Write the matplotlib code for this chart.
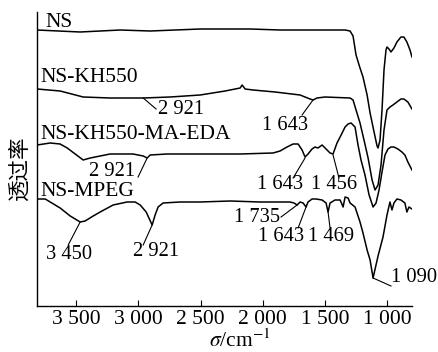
import matplotlib
matplotlib.use('Agg')
import matplotlib.pyplot as plt

plt.rcParams['font.family'] = ['Liberation Serif', 'DejaVu Serif']
plt.rcParams['mathtext.fontset'] = 'stix'

# --- spectra (wavenumber cm-1, transmittance a.u.) ---
ns_w = [3814, 3468, 3146, 2905, 2503, 2101, 1860, 1699, 1337, 1297, 1273, 1249, 1217,
        1193, 1160, 1136, 1104, 1080, 1072, 1056, 1040, 1024, 1008, 1000, 984, 968,
        944, 920, 888, 864, 840, 815, 799]
ns_t = [276, 274, 276, 275, 277, 277, 276, 276, 276, 275, 270, 251, 238,
        229, 211, 193, 174, 160, 158, 166, 196, 236, 256, 259, 257, 254,
        258, 264, 269, 269, 264, 256, 249]

kh_w = [3814, 3629, 3444, 3227, 2961, 2744, 2503, 2302, 2181, 2165, 2141, 2077, 1900,
        1699, 1619, 1595, 1563, 1498, 1297, 1273, 1249, 1217, 1185, 1152, 1120, 1096,
        1072, 1048, 1024, 1000, 976, 952, 920, 888, 864, 832, 799]
kh_t = [217, 215, 209, 208, 208, 209, 211, 215, 218, 221, 217, 216, 214,
        211, 207, 206, 208, 209, 208, 206, 196, 183, 166, 148, 126, 116,
        121, 141, 176, 196, 199, 201, 204, 207, 207, 204, 197]

eda_w = [3814, 3709, 3629, 3572, 3508, 3444, 3387, 3307, 3227, 3042, 2961, 2929, 2905,
         2768, 2503, 2181, 1917, 1860, 1804, 1755, 1715, 1683, 1659, 1635, 1603, 1579,
         1555, 1522, 1498, 1458, 1434, 1402, 1377, 1337, 1313, 1289, 1257, 1233, 1209,
         1177, 1144, 1112, 1088, 1064, 1040, 1016, 992, 968, 944, 912, 880, 856, 832, 799]
eda_t = [161, 163, 162, 158, 152, 146, 148, 150, 152, 152, 150, 148, 151,
         152, 152, 152, 153, 155, 159, 162, 162, 156, 149, 152, 157, 159,
         158, 161, 158, 153, 152, 163, 169, 179, 182, 183, 179, 161, 146,
         131, 111, 99, 103, 116, 134, 151, 157, 159, 159, 157, 154, 151, 144, 136]

peg_w = [3814, 3749, 3709, 3629, 3548, 3468, 3428, 3363, 3307, 3203, 3090, 3026, 2985,
         2937, 2889, 2865, 2841, 2801, 2664, 2503, 2262, 2021, 1780, 1748, 1723, 1699,
         1675, 1651, 1635, 1603, 1571, 1522, 1490, 1474, 1458, 1418, 1377, 1353, 1337,
         1313, 1297, 1257, 1217, 1193, 1160, 1136, 1112, 1072, 1032, 1000, 976, 960,
         944, 920, 888, 856, 840, 823, 799]
peg_t = [107, 107, 104, 98, 90, 84, 85, 90, 94, 101, 104, 104, 101,
         94, 81, 91, 99, 103, 104, 104, 105, 104, 104, 103, 101, 104,
         103, 99, 104, 107, 107, 106, 103, 94, 103, 106, 106, 99, 109,
         108, 103, 99, 84, 73, 56, 46, 28, 50, 69, 91, 104, 96,
         103, 107, 106, 103, 94, 99, 97]

series_names = ['NS', 'NS-KH550', 'NS-KH550-MA-EDA', 'NS-MPEG']
tick_vals = [3500, 3000, 2500, 2000, 1500, 1000]
tick_text = ['3 500', '3 000', '2 500', '2 000', '1 500', '1 000']

# peak labels: (text, peak w, peak t, line end w, line end t, text w, text t, ha)
peaks = [
    ('2 921', 2961, 208, 2857, 197, 2841, 196, 'left'),
    ('1 643', 1595, 206, 1683, 191, 1820, 180, 'center'),
    ('2 921', 2929, 148, 3002, 129, 3211, 134, 'center'),
    ('1 643', 1659, 148, 1755, 128, 1860, 121, 'center'),
    ('1 456', 1434, 151, 1386, 128, 1426, 121, 'center'),
    ('3 450', 3468, 84, 3564, 61, 3556, 51, 'center'),
    ('2 921', 2889, 81, 2961, 61, 2857, 54, 'center'),
    ('1 735', 1723, 101, 1852, 89, 2045, 88, 'center'),
    ('1 643', 1651, 99, 1715, 78, 1852, 69, 'center'),
    ('1 469', 1474, 94, 1458, 78, 1450, 69, 'center'),
    ('1 090', 1112, 28, 968, 20, 968, 28, 'left'),
]

fig = plt.figure(figsize=(4.38, 3.52), dpi=100)
ax = fig.add_axes([0.0845, 0.1307, 0.8561, 0.8352])

lw = 1.1
ax.plot(ns_w, ns_t, color='black', lw=lw)
ax.plot(kh_w, kh_t, color='black', lw=lw)
ax.plot(eda_w, eda_t, color='black', lw=lw)
ax.plot(peg_w, peg_t, color='black', lw=lw)

ax.set_xlim(3815, 799)
ax.set_ylim(0, 294)

fs = 15.5
fs_pk = 14.8
ax.text(3749, 284, series_names[0], fontsize=fs, va='center', ha='left')
ax.text(3789, 229, series_names[1], fontsize=fs, va='center', ha='left')
ax.text(3789, 171, series_names[2], fontsize=fs, va='center', ha='left')
ax.text(3789, 114, series_names[3], fontsize=fs, va='center', ha='left')

for txt, pw, pt, lw_, lt, tw, tt, ha in peaks:
    ax.plot([pw, lw_], [pt, lt], color='black', lw=0.8)
    ax.text(tw, tt, txt, fontsize=fs_pk, ha=ha, va='center')

for s in ['top', 'right']:
    ax.spines[s].set_visible(False)
ax.spines['left'].set_linewidth(1.0)
ax.spines['bottom'].set_linewidth(1.0)
ax.set_yticks([])
ax.set_xticks(tick_vals)
ax.set_xticklabels(tick_text, fontsize=fs)
ax.tick_params(axis='x', direction='in', length=4, width=0.8, pad=3)

fig.text(0.548, 0.013, '$\\sigma$/cm$^{-1}$', fontsize=fs, ha='center', va='baseline')
fig.text(0.046, 0.52, '透过率', fontsize=fs, rotation=90, ha='center', va='center',
         family=['Noto Sans CJK SC', 'DejaVu Sans'])

fig.savefig('out.png', dpi=100)
